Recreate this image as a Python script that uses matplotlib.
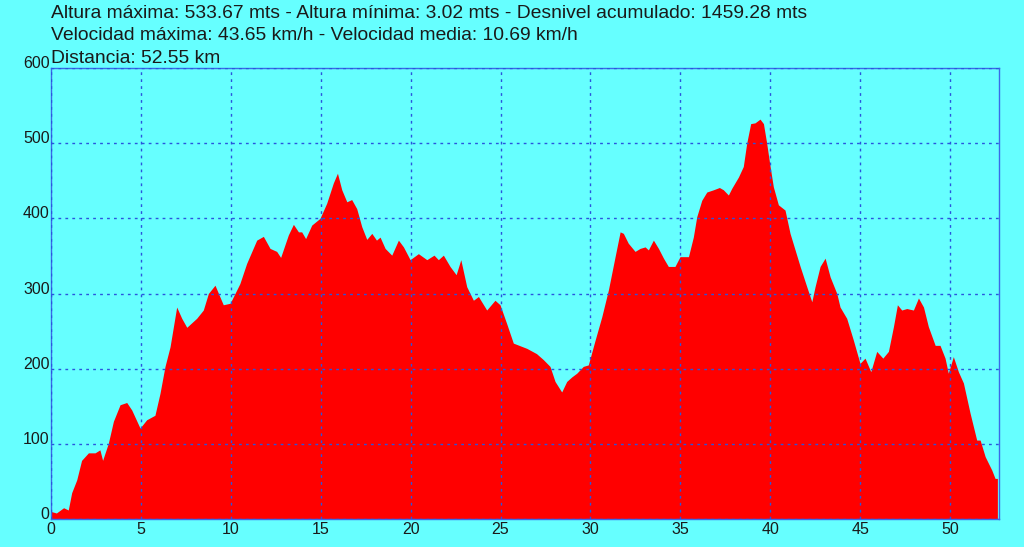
import matplotlib.pyplot as plt

# perfil de altura (km, m)
dist_km = [0.0, 0.3, 0.7, 0.96, 1.15, 1.43, 1.7, 2.08, 2.45, 2.72, 2.87, 3.19, 3.47, 3.84, 4.21,
           4.49, 4.95, 5.32, 5.78, 6.06, 6.34, 6.62, 6.99, 7.27, 7.55, 8.1, 8.47, 8.75, 9.12, 9.58,
           9.96, 10.5, 10.88, 11.44, 11.81, 12.18, 12.55, 12.77, 13.2, 13.48, 13.76, 13.94, 14.16,
           14.5, 14.96, 15.33, 15.7, 15.93, 16.17, 16.45, 16.72, 17.0, 17.28, 17.56, 17.84, 18.1,
           18.3, 18.58, 18.95, 19.32, 19.6, 19.97, 20.43, 20.9, 21.3, 21.54, 21.82, 22.19, 22.53,
           22.79, 23.12, 23.49, 23.77, 24.23, 24.69, 24.97, 25.34, 25.71, 26.46, 27.0, 27.38, 27.75,
           28.03, 28.4, 28.68, 28.96, 29.24, 29.6, 29.88, 30.26, 30.63, 31.0, 31.37, 31.65, 31.83,
           32.1, 32.48, 32.76, 33.04, 33.22, 33.5, 33.78, 34.06, 34.33, 34.7, 34.98, 35.45, 35.72,
           35.91, 36.19, 36.47, 36.84, 37.17, 37.39, 37.67, 37.86, 38.23, 38.5, 38.69, 38.91, 39.15,
           39.43, 39.62, 39.8, 39.99, 40.17, 40.45, 40.82, 41.1, 41.38, 41.66, 42.03, 42.31, 42.49,
           42.77, 43.05, 43.33, 43.7, 43.88, 44.25, 44.62, 44.99, 45.27, 45.59, 45.92, 46.26, 46.57,
           46.85, 47.07, 47.31, 47.59, 47.96, 48.24, 48.52, 48.79, 49.17, 49.44, 49.72, 49.9, 50.18,
           50.46, 50.74, 51.11, 51.48, 51.67, 51.95, 52.32, 52.5, 52.63]
elev_m = [10, 8, 15, 12, 35, 52, 78, 88, 88, 92, 78, 101, 130, 152, 155,
          145, 121, 132, 138, 167, 203, 229, 282, 267, 255, 267, 278, 300, 311, 285,
          287, 313, 340, 371, 376, 360, 356, 348, 378, 392, 382, 382, 373,
          391, 400, 420, 447, 460, 438, 422, 425, 413, 389, 372, 380, 371,
          375, 360, 351, 371, 362, 345, 353, 345, 351, 345, 351, 336, 325,
          345, 309, 291, 296, 278, 291, 285, 260, 234, 227, 220, 212, 203,
          183, 169, 183, 189, 194, 203, 205, 238, 269, 305, 349, 382, 380,
          367, 356, 360, 362, 358, 371, 360, 347, 336, 336, 349, 349, 375,
          402, 424, 435, 438, 441, 438, 431, 440, 455, 469, 500, 526, 527,
          532, 526, 500, 469, 442, 418, 411, 380, 358, 336, 309, 289, 309,
          336, 347, 322, 300, 282, 267, 238, 207, 214, 196, 223, 214, 223,
          256, 285, 278, 280, 278, 294, 282, 256, 231, 231, 214, 194, 216,
          196, 181, 141, 105, 105, 83, 65, 54, 54]

x_ticks = list(range(0, 55, 5))
y_ticks = list(range(0, 700, 100))

title_lines = [
    "Altura máxima: 533.67 mts - Altura mínima: 3.02 mts - Desnivel acumulado: 1459.28 mts",
    "Velocidad máxima: 43.65 km/h - Velocidad media: 10.69 km/h",
    "Distancia: 52.55 km",
]

bg = '#66ffff'
plt.rcParams['font.family'] = ['Liberation Sans', 'DejaVu Sans']

fig = plt.figure(figsize=(10.24, 5.47), dpi=100, facecolor=bg)
ax = fig.add_axes([51 / 1024, 1 - 519 / 547, 948 / 1024, 451 / 547])
ax.set_facecolor(bg)

ax.fill_between(dist_km, elev_m, 0, color='#ff0000', linewidth=0, zorder=1)

ax.set_xlim(0, 52.72)
ax.set_ylim(0, 600)
ax.set_xticks(x_ticks)
ax.set_yticks(y_ticks)
ax.tick_params(length=0, labelsize=11.5, colors='#1a1a1a')
ax.tick_params(axis='y', pad=1)
ax.tick_params(axis='x', pad=2)
for lbl in ax.get_yticklabels():
    lbl.set_verticalalignment('baseline')

ax.grid(True, color='#2a55dd', linestyle=(0, (2, 3)), linewidth=1, zorder=2)
ax.set_axisbelow(False)
for s in ax.spines.values():
    s.set_color('#3a6ae8')
    s.set_linewidth(1)

baselines = [18, 40, 63]
for line, yb in zip(title_lines, baselines):
    fig.text(51 / 1024, 1 - yb / 547, line, fontsize=13.9, color='#1a1a1a',
             ha='left', va='baseline')

fig.savefig('out.png', dpi=100, facecolor=bg)
